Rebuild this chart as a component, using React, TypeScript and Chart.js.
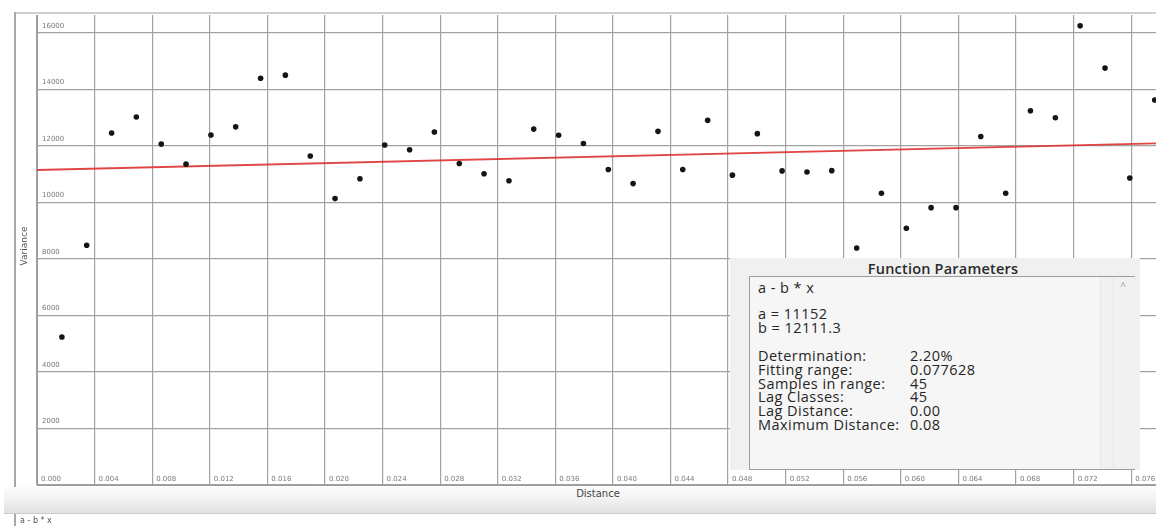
import React, { useEffect, useRef } from "react";
import { Chart, registerables } from "chart.js";

Chart.register(...registerables);

// Lag distances (x) of the 45 lag classes
const distances = [
  0.00173, 0.00345, 0.00518, 0.0069, 0.00863, 0.01035, 0.01208, 0.0138, 0.01553,
  0.01725, 0.01898, 0.0207, 0.02243, 0.02415, 0.02588, 0.0276, 0.02933, 0.03105,
  0.03278, 0.0345, 0.03623, 0.03795, 0.03968, 0.0414, 0.04313, 0.04485, 0.04658,
  0.0483, 0.05003, 0.05175, 0.05348, 0.0552, 0.05693, 0.05865, 0.06038, 0.0621,
  0.06383, 0.06555, 0.06728, 0.069, 0.07073, 0.07245, 0.07418, 0.0759, 0.07763,
];

// Experimental variance values
const variances = [
  5240, 8490, 12460, 13030, 12070, 11360, 12390, 12680, 14400, 14510, 11650,
  10140, 10840, 12040, 11870, 12500, 11380, 11020, 10770, 12600, 12380, 12090,
  11170, 10670, 12520, 11170, 12910, 10970, 12440, 11120, 11080, 11130, 8390,
  10330, 9090, 9820, 9820, 12340, 10330, 13250, 13000, 16260, 14760, 10870, 13630,
];

// Fitted model line endpoints (a - b * x)
const fitX = [0, 0.07772];
const fitY = [11152, 12093];

const xTickValues = [
  0, 0.004, 0.008, 0.012, 0.016, 0.02, 0.024, 0.028, 0.032, 0.036, 0.04, 0.044,
  0.048, 0.052, 0.056, 0.06, 0.064, 0.068, 0.072, 0.076,
];
const xTickLabels = [
  "0.000", "0.004", "0.008", "0.012", "0.016", "0.020", "0.024", "0.028", "0.032",
  "0.036", "0.040", "0.044", "0.048", "0.052", "0.056", "0.060", "0.064", "0.068",
  "0.072", "0.076",
];
const yTickValues = [0, 2000, 4000, 6000, 8000, 10000, 12000, 14000, 16000];
const yTickLabels = ["", "2000", "4000", "6000", "8000", "10000", "12000", "14000", "16000"];

const paramLabels = [
  "Determination:",
  "Fitting range:",
  "Samples in range:",
  "Lag Classes:",
  "Lag Distance:",
  "Maximum Distance:",
];
const paramValues = ["2.20%", "0.077628", "45", "45", "0.00", "0.08"];

const UI_FONT = '"Open Sans", "Noto Sans", sans-serif';

export default function App() {
  const canvasRef = useRef<HTMLCanvasElement | null>(null);

  useEffect(() => {
    const canvas = canvasRef.current;
    if (!canvas) return;
    const chart = new Chart(canvas, {
      type: "scatter",
      data: {
        datasets: [
          {
            type: "line",
            data: fitX.map((x, i) => ({ x, y: fitY[i] })),
            borderColor: "rgba(222,50,50,0.9)",
            borderWidth: 1.8,
            pointRadius: 0,
            fill: false,
            order: 2,
          },
          {
            type: "scatter",
            data: distances.map((x, i) => ({ x, y: variances[i] })),
            backgroundColor: "#151515",
            borderWidth: 0,
            pointRadius: 2.8,
            order: 1,
          },
        ],
      },
      options: {
        animation: false,
        responsive: false,
        maintainAspectRatio: false,
        layout: { padding: { top: 15, left: 0, right: 0, bottom: 0 } },
        plugins: { legend: { display: false }, tooltip: { enabled: false } },
        scales: {
          x: {
            type: "linear",
            bounds: "data",
            min: 0,
            max: 0.07772,
            afterBuildTicks: (s: any) => {
              s.ticks = xTickValues.map((v) => ({ value: v }));
            },
            afterFit: (s: any) => {
              s.height = 41;
            },
            grid: { color: "#a2a2a2", lineWidth: 1.2, drawTicks: false },
            border: { color: "#999999" },
            ticks: {
              autoSkip: false,
              maxRotation: 0,
              mirror: true,
              align: "start",
              padding: 2,
              labelOffset: 4,
              color: "#7a7a7a",
              font: { family: "DejaVu Sans", size: 7 },
              callback: (_v: any, i: number) => xTickLabels[i] ?? "",
            },
          },
          y: {
            type: "linear",
            bounds: "data",
            min: 0,
            max: 16640,
            afterBuildTicks: (s: any) => {
              s.ticks = yTickValues.map((v) => ({ value: v }));
            },
            afterFit: (s: any) => {
              s.width = 37;
            },
            grid: { color: "#a2a2a2", lineWidth: 1.2, drawTicks: false },
            border: { color: "#999999" },
            ticks: {
              mirror: true,
              padding: 5,
              labelOffset: -7,
              color: "#7a7a7a",
              font: { family: "DejaVu Sans", size: 7 },
              callback: (_v: any, i: number) => yTickLabels[i] ?? "",
            },
          },
        },
      },
    });
    return () => chart.destroy();
  }, []);

  const abs = (s: React.CSSProperties): React.CSSProperties => ({ position: "absolute", ...s });

  const panelText: React.CSSProperties = {
    fontSize: 14.5,
    letterSpacing: 0.45,
    color: "#262626",
    whiteSpace: "nowrap",
  };

  return (
    <div
      style={{
        position: "fixed",
        left: 0,
        top: 0,
        width: 1156,
        height: 526,
        background: "#ffffff",
        overflow: "hidden",
        fontFamily: UI_FONT,
      }}
    >
      {/* window frame */}
      <div style={abs({ left: 14, top: 12, width: 1142, height: 2, background: "#cfcfcf" })} />
      <div style={abs({ left: 14, top: 12, width: 2, height: 486, background: "#a8a8a8" })} />
      <canvas ref={canvasRef} width={1160} height={526} style={abs({ left: 0, top: 0 })} />
      {/* y axis title */}
      <div
        style={abs({
          left: 24,
          top: 246,
          transform: "translate(-50%, -50%) rotate(-90deg)",
          fontSize: 9,
          color: "#555",
          whiteSpace: "nowrap",
          fontFamily: "DejaVu Sans, sans-serif",
        })}
      >
        Variance
      </div>
      {/* x axis title band */}
      <div
        style={abs({
          left: 4,
          top: 487,
          width: 1152,
          height: 26,
          background: "linear-gradient(#fbfbfb, #f3f3f3 40%, #e2e2e2)",
          borderBottom: "1px solid #cbcbcb",
        })}
      />
      <div
        style={abs({
          left: 598,
          top: 493,
          transform: "translate(-50%, -50%)",
          fontSize: 10,
          color: "#444",
          fontFamily: "DejaVu Sans, sans-serif",
        })}
      >
        Distance
      </div>
      {/* bottom expression field */}
      <div style={abs({ left: 14, top: 514, width: 2, height: 12, background: "#a8a8a8" })} />
      <div
        style={abs({
          left: 20,
          top: 520,
          transform: "translateY(-50%)",
          fontSize: 8,
          color: "#555",
          fontFamily: "DejaVu Sans, sans-serif",
        })}
      >
        a - b * x
      </div>
      {/* Function Parameters panel */}
      <div style={abs({ left: 730, top: 258, width: 410, height: 212, background: "#f0f0f0" })} />
      <div
        style={abs({
          left: 943,
          top: 268,
          transform: "translate(-50%, -50%)",
          fontSize: 14.5,
          letterSpacing: 0.2,
          fontWeight: 600,
          color: "#2a2a2a",
          whiteSpace: "nowrap",
        })}
      >
        Function Parameters
      </div>
      <div
        style={abs({
          left: 749,
          top: 276,
          width: 386,
          height: 194,
          background: "#f6f6f6",
          border: "1px solid #9c9c9c",
          boxSizing: "border-box",
        })}
      />
      <div
        style={abs({
          left: 1100,
          top: 277,
          width: 34,
          height: 192,
          background: "#f1f1f1",
          borderLeft: "1px solid #e6e6e6",
        })}
      />
      <div style={abs({ left: 1113, top: 277, width: 1, height: 192, background: "#e6e6e6" })} />
      <div
        style={abs({
          left: 1123,
          top: 286,
          transform: "translate(-50%, -50%)",
          fontSize: 10,
          color: "#999",
        })}
      >
        ^
      </div>
      {[
        { t: "a - b * x", y: 287 },
        { t: "a = 11152", y: 313 },
        { t: "b = 12111.3", y: 327 },
      ].map((l, i) => (
        <div
          key={"h" + i}
          style={abs({ left: 758, top: l.y, transform: "translateY(-50%)", ...panelText })}
        >
          {l.t}
        </div>
      ))}
      {paramLabels.map((lab, i) => (
        <React.Fragment key={"p" + i}>
          <div
            style={abs({ left: 758, top: 355 + i * 13.8, transform: "translateY(-50%)", ...panelText })}
          >
            {lab}
          </div>
          <div
            style={abs({ left: 910, top: 355 + i * 13.8, transform: "translateY(-50%)", ...panelText })}
          >
            {paramValues[i]}
          </div>
        </React.Fragment>
      ))}
    </div>
  );
}
